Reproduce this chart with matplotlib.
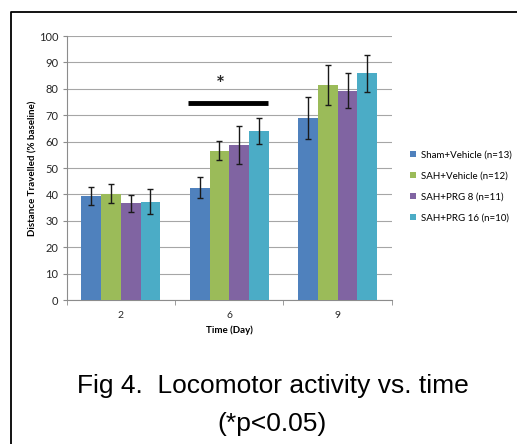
import matplotlib
matplotlib.use("Agg")
import matplotlib.pyplot as plt
from matplotlib.lines import Line2D
import numpy as np

days = ["2", "6", "9"]
groups = ["Sham+Vehicle (n=13)", "SAH+Vehicle (n=12)", "SAH+PRG 8 (n=11)", "SAH+PRG 16 (n=10)"]
sham_vehicle = [39.3, 42.6, 68.9]
sah_vehicle = [40.3, 56.6, 81.6]
sah_prg8 = [36.6, 58.7, 79.3]
sah_prg16 = [37.3, 64.0, 85.9]
sham_vehicle_err = [3.5, 4.0, 7.9]
sah_vehicle_err = [3.6, 3.5, 7.6]
sah_prg8_err = [3.3, 7.1, 6.5]
sah_prg16_err = [4.7, 4.8, 7.0]
colors = ["#4F81BD", "#9BBB59", "#8064A2", "#4BACC6"]
sig_level = 74.7
sig_star_level = 81.5

values = [sham_vehicle, sah_vehicle, sah_prg8, sah_prg16]
errors = [sham_vehicle_err, sah_vehicle_err, sah_prg8_err, sah_prg16_err]

font = ["Lato", "DejaVu Sans"]
fig = plt.figure(figsize=(5.17, 4.44), dpi=100)
ax = fig.add_axes([0.129, 0.3243, 0.629, 0.5946])

x = np.arange(len(days))
w = 0.182
for i, (vals, errs, c, lab) in enumerate(zip(values, errors, colors, groups)):
    pos = x + (i - 1.5) * w
    ax.bar(pos, vals, width=w, color=c, label=lab, zorder=3, linewidth=0)
    ax.errorbar(pos, vals, yerr=errs, fmt="none", ecolor="#1a1a1a",
                elinewidth=1.0, capsize=2.2, capthick=1.0, zorder=4)

ax.set_xlim(-0.5, 2.5)
ax.set_ylim(0, 100)
ax.set_yticks(np.arange(0, 101, 10))
ax.yaxis.grid(True, color="#a6a6a6", linewidth=0.8, zorder=0)
ax.set_axisbelow(True)
for s in ["top", "right"]:
    ax.spines[s].set_visible(False)
ax.spines["left"].set_color("#8c8c8c")
ax.spines["bottom"].set_color("#8c8c8c")
ax.tick_params(axis="y", length=3, color="#8c8c8c", labelsize=8, pad=3, labelcolor="#262626")
ax.set_xticks(x)
ax.set_xticklabels(days, fontsize=7.5, color="#262626", family=font)
ax.tick_params(axis="x", length=0, pad=8)
ax.set_xticks([-0.5, 0.5, 1.5, 2.5], minor=True)
ax.tick_params(axis="x", which="minor", length=3.5, color="#8c8c8c")
for t in ax.get_yticklabels():
    t.set_family(font)

ax.set_ylabel("Distance Travelled (% baseline)", fontsize=7, fontweight="bold", family=font, labelpad=1)
ax.set_xlabel("Time (Day)", fontsize=7, fontweight="bold", family=font, labelpad=4)

# significance
ax.plot([1 - 2 * w - 0.02, 1 + 2 * w - 0.01], [sig_level, sig_level], color="black", lw=3.5,
        solid_capstyle="butt", zorder=5)
ax.text(0.915, sig_star_level, "*", ha="center", va="center", fontsize=15, fontweight="bold",
        color="#262626", family=font)

ax.legend(loc="center left", bbox_to_anchor=(1.045, 0.43), frameon=False,
          prop={"family": font, "size": 7}, handlelength=0.6, handleheight=0.6,
          handletextpad=0.5, labelspacing=1.25, borderaxespad=0)

fig.text(0.527, 0.131, "Fig 4.  Locomotor activity vs. time", ha="center", va="center",
         fontsize=19, family=["Liberation Sans", "DejaVu Sans"])
fig.text(0.527, 0.046, "(*p<0.05)", ha="center", va="center",
         fontsize=19, family=["Liberation Sans", "DejaVu Sans"])

bx = 11 / 517
by = 1 - 12 / 444
fig.add_artist(Line2D([bx, bx, 1.0], [0.0, by, by], transform=fig.transFigure,
                      color="black", lw=1.3))

fig.savefig("out.png", dpi=100)
